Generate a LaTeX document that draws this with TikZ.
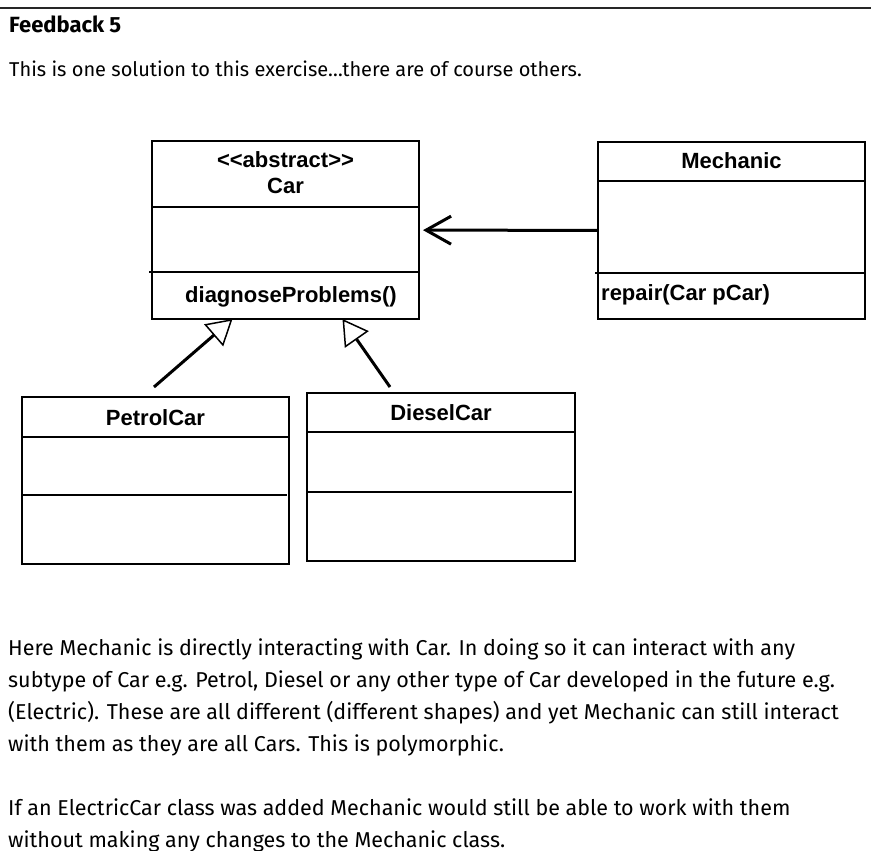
\documentclass[tikz,border=0pt]{standalone}
\usepackage{fontspec}
\setmainfont{Fira Sans}
\newfontfamily\umlfont{Liberation Sans}
\usetikzlibrary{arrows.meta, positioning}

\begin{document}
\begin{tikzpicture}[x=1pt, y=-1pt,
                cls/.style={rectangle, draw, line width=2pt, minimum width=267pt, inner sep=0pt, outer sep=0pt, anchor=north west},
                part/.style={line width=1.5pt},
                lbl/.style={font=\umlfont\bfseries\fontsize{22}{25}\selectfont, align=center, inner sep=0pt, anchor=base},
                op/.style={font=\umlfont\bfseries\fontsize{22}{25}\selectfont, inner sep=0pt, anchor=base west},
                txt/.style={font=\fontsize{21.5}{32}\selectfont, align=left, inner sep=0pt, anchor=base west},
                inherit/.style={line width=3pt, -{Triangle[open, length=25pt, width=29pt, line width=1.5pt]}},
                assoc/.style={line width=3pt, -{Straight Barb[length=25pt, width=28pt]}}]
    \useasboundingbox (0,0) rectangle (871,851);

    % heading
    \draw[line width=1.5pt, black!85] (0,8) -- (871,8);
    \node[txt, font=\bfseries\fontsize{22}{32}\selectfont] (title) at (9,33) {Feedback 5};
    \node[txt, font=\fontsize{20}{32}\selectfont] (intro) at (9,77) {This is one solution to this exercise…there are of course others.};

    % classes
    \node[cls, minimum height=178pt] (car) at (152,141) {};
    \draw[part] ([yshift=-66pt]car.north west) -- ([yshift=-66pt]car.north east);
    \draw[part] ([xshift=-3pt, yshift=47pt]car.south west) -- ([yshift=47pt]car.south east);
    \node[lbl] (carname) at ([yshift=-52pt]car.north) {<{}<abstract>{}>\\Car};
    \node[op] (carop) at (185,302) {diagnoseProblems()};

    \node[cls, minimum height=177pt] (mech) at (598,142) {};
    \draw[part] ([yshift=-39pt]mech.north west) -- ([yshift=-39pt]mech.north east);
    \draw[part] ([xshift=-3pt, yshift=46pt]mech.south west) -- ([yshift=46pt]mech.south east);
    \node[lbl] (mechname) at ([yshift=-26pt]mech.north) {Mechanic};
    \node[op] (mechop) at (601,300) {repair(Car pCar)};

    \node[cls, minimum height=167pt] (petrol) at (22,397) {};
    \draw[part] ([yshift=-40pt]petrol.north west) -- ([yshift=-40pt]petrol.north east);
    \draw[part] ([yshift=69pt]petrol.south west) -- ([xshift=-2pt, yshift=69pt]petrol.south east);
    \node[lbl] (petrolname) at ([yshift=-28pt]petrol.north) {PetrolCar};

    \node[cls, minimum height=168pt, minimum width=268pt] (diesel) at (307,393) {};
    \draw[part] ([yshift=-39pt]diesel.north west) -- ([yshift=-39pt]diesel.north east);
    \draw[part] ([yshift=69pt]diesel.south west) -- ([xshift=-3pt, yshift=69pt]diesel.south east);
    \node[lbl] (dieselname) at ([yshift=-27pt]diesel.north) {DieselCar};

    % relations
    \draw[assoc, shorten >=4pt] (mech) -- (car);
    \draw[inherit] ([xshift=-1.5pt, yshift=10pt]petrol.north) -- ([xshift=-53pt]car.south);
    \draw[inherit] ([xshift=-51pt, yshift=6pt]diesel.north) -- ([xshift=57pt]car.south);

    % explanation (base = last line)
    \node[txt] (expl) at (8,847) {Here Mechanic is directly interacting with Car. In doing so it can interact with any\\
        subtype of Car e.g. Petrol, Diesel or any other type of Car developed in the future e.g.\\
        (Electric). These are all different (different shapes) and yet Mechanic can still interact\\
        with them as they are all Cars. This is polymorphic.\\[32pt]
        If an ElectricCar class was added Mechanic would still be able to work with them\\
        without making any changes to the Mechanic class.};
\end{tikzpicture}
\end{document}
